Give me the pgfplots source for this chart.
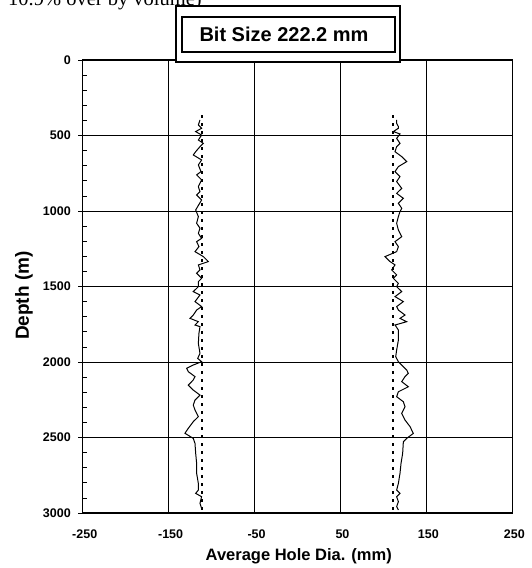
\documentclass[border=0pt]{standalone}
\usepackage{fontspec}
\setmainfont{Liberation Sans}
\newfontfamily\serifpage{Liberation Serif}
\usepackage{pgfplots}
\pgfplotsset{compat=1.18}

% average hole diameter vs depth, read off the caliper log
\pgfplotstableread{
depth x
397 -113.5
430 -115.4
452 -111.6
474 -118.5
497 -111.6
530 -115.4
552 -109.6
574 -113.5
607 -118.5
629 -121.3
662 -111.6
695 -115.4
739 -112.3
761 -117.4
794 -111.6
839 -115.4
872 -113.5
894 -117.4
927 -111.6
971 -116.2
993 -118.5
1037 -115.4
1081 -117.4
1114 -113.5
1148 -115.4
1181 -111.6
1203 -117.4
1236 -114.7
1269 -119.3
1302 -109.6
1335 -103.8
1357 -115.4
1390 -113.5
1412 -117.4
1446 -111.6
1468 -115.4
1501 -115.4
1534 -121.3
1556 -113.5
1600 -119.3
1633 -111.6
1656 -117.4
1689 -121.3
1711 -125.1
1733 -115.4
1755 -119.3
1766 -113.5
1810 -114.7
1877 -115.4
1943 -113.5
1976 -116.2
1998 -111.6
2020 -121.3
2042 -129.0
2064 -127.1
2097 -119.3
2119 -121.3
2153 -127.1
2186 -121.3
2219 -113.5
2252 -119.3
2285 -121.3
2318 -119.3
2362 -115.4
2395 -121.3
2439 -127.1
2472 -131.0
2506 -121.3
2539 -119.3
2605 -118.5
2671 -117.4
2737 -117.4
2804 -115.4
2848 -115.4
2870 -118.5
2892 -111.6
2936 -113.5
2969 -111.6
}\leftside

\pgfplotstableread{
depth x
397 115.4
419 115.4
441 117.4
452 117.4
474 111.6
490 119.3
519 115.4
552 119.3
574 115.4
607 113.5
640 121.3
673 127.1
706 117.4
739 113.5
772 119.3
805 115.4
850 121.3
883 115.4
916 123.2
949 117.4
982 121.3
1004 119.3
1037 117.4
1081 115.4
1126 117.4
1170 121.3
1203 113.5
1236 117.4
1269 115.4
1302 101.9
1335 107.7
1357 113.5
1390 109.6
1423 115.4
1446 111.6
1479 117.4
1501 115.4
1534 121.3
1567 113.5
1600 123.2
1633 115.4
1656 117.4
1689 125.1
1711 119.3
1733 127.1
1755 113.5
1788 117.4
1855 117.4
1921 115.4
1965 114.3
1998 117.4
2031 123.2
2053 127.1
2075 129.0
2097 125.1
2130 121.3
2164 129.0
2197 117.4
2230 115.4
2263 123.2
2296 125.1
2340 121.3
2384 125.1
2428 131.0
2473 134.8
2506 127.1
2528 123.2
2605 122.4
2671 120.5
2737 119.3
2804 117.4
2848 115.4
2870 119.3
2892 115.4
2925 117.4
2958 115.4
2980 117.4
}\rightside

% bit radius, +/- 111.1 mm
\pgfplotstableread{
depth x
365 -111.1
3000 -111.1
}\bitleft
\pgfplotstableread{
depth x
365 111.1
3000 111.1
}\bitright

\newcommand\tickfont{\fontsize{12.5}{14}\selectfont\bfseries}

\begin{document}
\begin{tikzpicture}
\useasboundingbox (0,0) rectangle (531pt,568pt);

\node[anchor=base west, inner sep=0pt, font=\serifpage\fontsize{20.5}{22}\selectfont]
  at (8pt,562pt) {10.9\% over by volume)};

\begin{axis}[
at={(82.7pt,55pt)},
anchor=south west,
scale only axis,
width=429.6pt,
height=453pt,
xmin=-250, xmax=250,
ymin=0, ymax=3000,
y dir=reverse,
xtick={-250,-150,-50,50,150,250},
xticklabels={-250,-150,-50,50,150,250},
ytick={0,500,1000,1500,2000,2500,3000},
yticklabels={0,500,1000,1500,2000,2500,3000},
minor y tick num=4,
grid=major,
grid style={black, line width=0.9pt},
axis line style={black, line width=1.2pt},
tick align=inside,
xtick pos=left,
ytick pos=left,
xtick style={draw=none},
major tick length=0pt,
minor tick length=4pt,
minor tick style={black, line width=0.8pt},
xticklabel style={font=\tickfont, anchor=center, yshift=-21pt, xshift=2pt},
yticklabel style={font=\tickfont, anchor=east, inner sep=0pt, xshift=-11.7pt},
xlabel={Average Hole Dia. (mm)},
ylabel={Depth (m)},
xlabel style={font=\fontsize{16.5}{18}\selectfont\bfseries, at={(axis description cs:0.503,-0.095)}, anchor=center},
ylabel style={font=\fontsize{19}{21}\selectfont\bfseries, at={(axis description cs:-0.137,0.48)}, anchor=center},
]
\addplot [black, line width=1.8pt, dash pattern=on 2.5pt off 5.5pt] table [x=x, y=depth] {\bitleft};
\addplot [black, line width=1.8pt, dash pattern=on 2.5pt off 5.5pt] table [x=x, y=depth] {\bitright};
\addplot [black, line width=1pt] table [x=x, y=depth] {\leftside};
\addplot [black, line width=1pt] table [x=x, y=depth] {\rightside};
\end{axis}

% top minor ticks and left major tick stubs
\begin{axis}[
at={(82.7pt,55pt)},
anchor=south west,
scale only axis,
width=429.6pt,
height=453pt,
xmin=-250, xmax=250,
ymin=0, ymax=3000,
y dir=reverse,
axis line style={draw=none},
xtick=\empty,
minor xtick={-200,-100,0,100,200},
ytick={0,500,1000,1500,2000,2500,3000},
xticklabels={},
yticklabels={},
xtick pos=right,
ytick pos=left,
xtick align=inside,
ytick align=outside,
major tick length=4.5pt,
minor tick length=4pt,
every tick/.style={black, line width=0.9pt},
]
\end{axis}

\draw[black, line width=1.3pt, fill=white] (176pt,506pt) rectangle (400pt,562pt);
\draw[black, line width=2pt] (182pt,516pt) rectangle (395pt,551pt);
\node[font=\fontsize{20}{22}\selectfont\bfseries] at (284pt,534pt) {Bit Size 222.2 mm};
\end{tikzpicture}
\end{document}
